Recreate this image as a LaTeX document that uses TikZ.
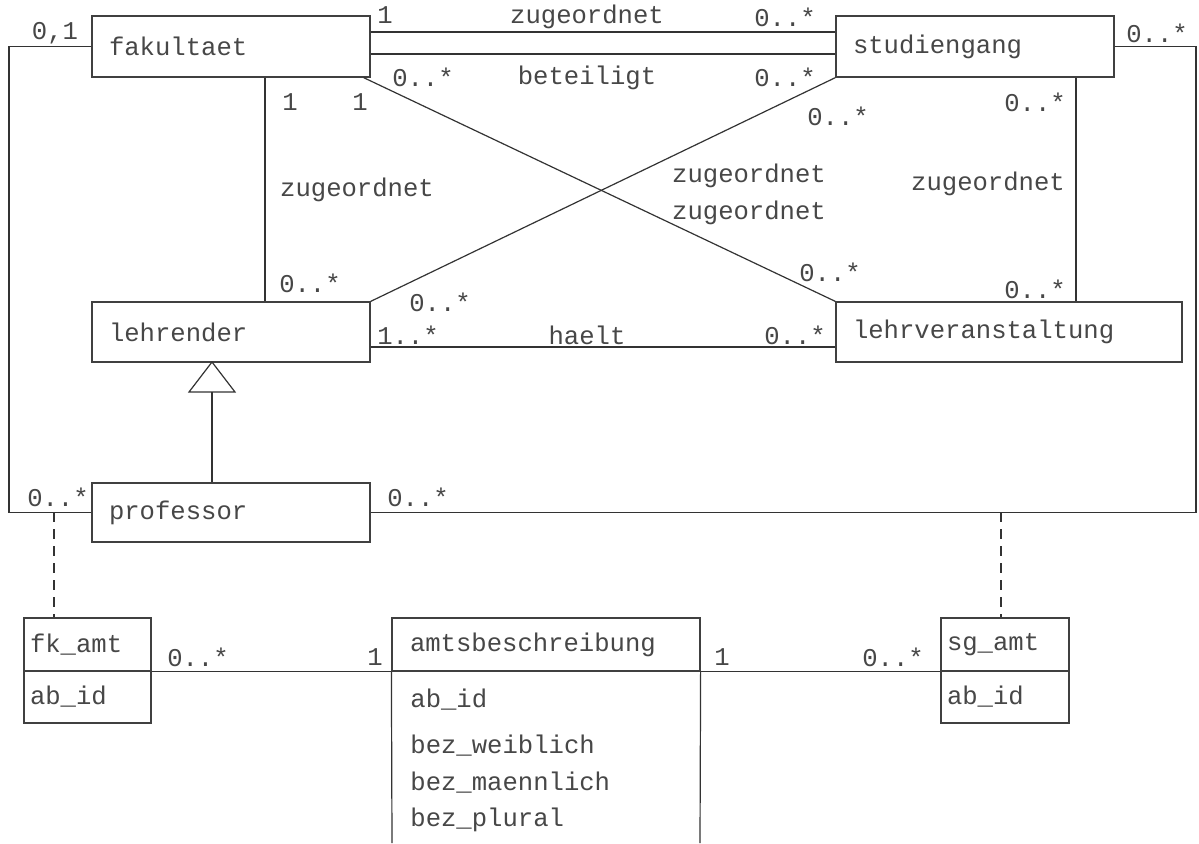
\documentclass[tikz,border=0pt]{standalone}
\usepackage{fontspec}
\setmonofont{Liberation Mono}
\begin{document}
\begin{tikzpicture}[x=0.5pt,y=-0.5pt,
  every node/.style={font=\ttfamily\fontsize{12.8}{15}\selectfont, text=black!72},
  cls/.style={draw=black!75, line width=0.6pt, inner xsep=8.5pt, inner ysep=0pt, align=left},
  attr/.style={draw=black!75, line width=0.6pt, inner xsep=3pt, inner ysep=0pt, align=left},
  lbl/.style={inner sep=0pt, anchor=center},
  conn/.style={draw=black!80, line width=0.6pt},
  dep/.style={draw=black!80, line width=0.6pt, dash pattern=on 5pt off 3.5pt}]
\useasboundingbox (0,0) rectangle (1199,843);
\fill[white] (0,0) rectangle (1199,843);

% classes
\node[cls, minimum width=139pt, text width=122pt, minimum height=30.5pt] (fak) at (231,46.5) {fakultaet};
\node[cls, minimum width=139pt, text width=122pt, minimum height=30.5pt] (stud) at (975,46.5) {studiengang};
\node[cls, minimum width=139pt, text width=122pt, minimum height=30pt] (lehr) at (231,332) {lehrender};
\node[cls, minimum width=173pt, text width=156pt, minimum height=30pt] (lv) at (1009,332) {lehrveranstaltung};
\node[cls, minimum width=139pt, text width=122pt, minimum height=29.5pt] (prof) at (231,512.5) {professor};

% association classes
\node[attr, minimum width=63.5pt, text width=57.5pt, minimum height=26.5pt] (fkA) at (87.5,644.5) {fk\_amt};
\node[attr, minimum width=63.5pt, text width=57.5pt, minimum height=26pt] (fkB) at (87.5,697) {ab\_id};
\node[attr, inner xsep=9pt, minimum width=154pt, text width=136pt, minimum height=26.5pt] (abA) at (546,644.5) {amtsbeschreibung};
\node[attr, minimum width=64pt, text width=58pt, minimum height=26.5pt] (sgA) at (1005,644.5) {sg\_amt};
\node[attr, minimum width=64pt, text width=58pt, minimum height=26pt] (sgB) at (1005,697) {ab\_id};

\node[lbl, anchor=west] (ab1) at (410,700) {ab\_id};
\node[lbl, anchor=west] (ab2) at (410,746) {bez\_weiblich};
\node[lbl, anchor=west] (ab3) at (410,783) {bez\_maennlich};
\node[lbl, anchor=west] (ab4) at (410,820) {bez\_plural};
\coordinate (abBL) at (392,843);
\coordinate (abBR) at (700,843);
\draw[conn] (abA.south west) -- (abBL);
\draw[conn] (abA.south east) -- (abBR);

% connectors
\draw[conn] (fak.east |- 0,32) -- (stud.west |- 0,32);
\draw[conn] (fak.east |- 0,54) -- (stud.west |- 0,54);
\coordinate (lcorner) at (9,46.5);
\draw[conn] (fak.west) -- (lcorner) |- (prof.west);
\coordinate (rcorner) at (1196,46.5);
\draw[conn] (stud.east) -- (rcorner) |- (prof.east);
\draw[conn] (fak.south -| 265,0) -- (lehr.north -| 265,0);
\draw[conn] ([xshift=-3.5pt]fak.south east) -- (lv.north west);
\draw[conn] (stud.south west) -- (lehr.north east);
\draw[conn] (stud.south -| 1076,0) -- (lv.north -| 1076,0);
\draw[conn] (lehr.east |- 0,347) -- (lv.west |- 0,347);

% generalization
\coordinate (tip) at (212,362);
\coordinate (tbl) at (189,392);
\coordinate (tbr) at (235,392);
\coordinate (tbm) at (212,392);
\draw[conn] (tip) -- (tbl) -- (tbr) -- cycle;
\draw[conn] (tbm) -- (prof.north -| tbm);

% dependencies
\coordinate (d1) at (54,512);
\draw[dep] (d1) -- (fkA.north -| d1);
\coordinate (d2) at (1001,512);
\draw[dep] (d2) -- (sgA.north -| d2);

\draw[conn] (fkA.south east) -- (abA.south west);
\draw[conn] (abA.south east) -- (sgA.south west);

% labels
\node[lbl] (l01) at (55,33) {0,1};
\node[lbl] (l02) at (385,15) {1};
\node[lbl] (l03) at (587,17) {zugeordnet};
\node[lbl] (l04) at (785,17) {0..*};
\node[lbl] (l05) at (423,77) {0..*};
\node[lbl] (l06) at (587,78) {beteiligt};
\node[lbl] (l07) at (785,77) {0..*};
\node[lbl] (l08) at (1157,33) {0..*};
\node[lbl] (l09) at (290,102) {1};
\node[lbl] (l10) at (360,102) {1};
\node[lbl] (l11) at (838,116) {0..*};
\node[lbl] (l12) at (1035,102) {0..*};
\node[lbl] (l13) at (357,190) {zugeordnet};
\node[lbl] (l14) at (749,176) {zugeordnet};
\node[lbl] (l15) at (749,213) {zugeordnet};
\node[lbl] (l16) at (988,184) {zugeordnet};
\node[lbl] (l17) at (310,283) {0..*};
\node[lbl] (l18) at (440,302) {0..*};
\node[lbl] (l19) at (830,272) {0..*};
\node[lbl] (l20) at (1035,289) {0..*};
\node[lbl] (l21) at (408,335) {1..*};
\node[lbl] (l22) at (587,335) {haelt};
\node[lbl] (l23) at (795,335) {0..*};
\node[lbl] (l24) at (58,497) {0..*};
\node[lbl] (l25) at (418,497) {0..*};
\node[lbl] (l26) at (198,657) {0..*};
\node[lbl] (l27) at (375,657) {1};
\node[lbl] (l28) at (722,657) {1};
\node[lbl] (l29) at (893,657) {0..*};
\end{tikzpicture}
\end{document}
